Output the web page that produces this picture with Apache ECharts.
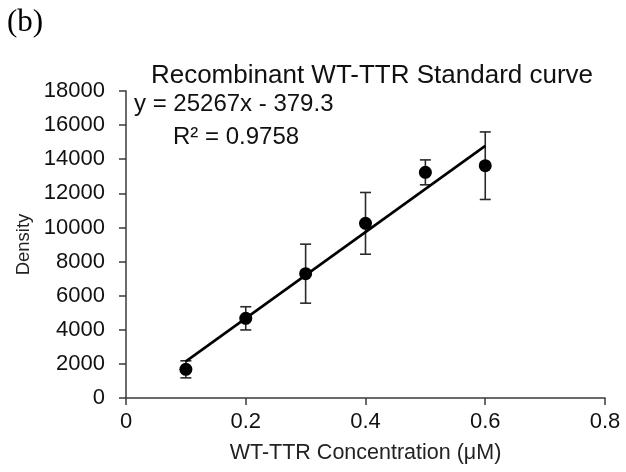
<!DOCTYPE html>
<html>
<head>
<meta charset="utf-8">
<script src="https://cdn.jsdelivr.net/npm/echarts@6/dist/echarts.min.js"></script>
<style>html,body{margin:0;padding:0;background:#fff}#c{width:626px;height:472px}</style>
</head>
<body>
<div id="c"></div>
<script>
const concentrations = [0.1, 0.2, 0.3, 0.4, 0.5, 0.6];
const densities = [1680, 4670, 7290, 10240, 13230, 13620];
const errors = [500, 680, 1730, 1810, 730, 1980];
const trendX = [0.1, 0.6];
const trendY = [2147, 14781];
const xTicks = [0, 0.2, 0.4, 0.6, 0.8];
const yTicks = [0, 2000, 4000, 6000, 8000, 10000, 12000, 14000, 16000, 18000];
const titleText = 'Recombinant WT-TTR Standard curve';
const equationText = 'y = 25267x - 379.3';
const r2Text = 'R² = 0.9758';
const panelLabel = '(b)';
const xName = 'WT-TTR Concentration (μM)';
const yName = 'Density';

const font = '"Liberation Sans", Arial, sans-serif';
const axisColor = '#3a3a3a';

const chart = echarts.init(document.getElementById('c'), null, {renderer: 'canvas'});
const pts = concentrations.map((x, i) => [x, densities[i]]);
const errData = concentrations.map((x, i) => [x, densities[i] - errors[i], densities[i] + errors[i]]);

chart.setOption({
  animation: false,
  backgroundColor: '#fff',
  grid: {left: 126, right: 21, top: 91, bottom: 74},
  title: {
    text: titleText,
    left: 367, top: 58, textAlign: 'center',
    textStyle: {fontFamily: font, fontSize: 26, fontWeight: 'normal', color: '#111'}
  },
  graphic: [
    {type: 'text', left: 7, top: 7, style: {text: panelLabel, font: '31px "Liberation Serif", "Times New Roman", serif', fill: '#000'}},
    {type: 'text', left: 134, top: 92, style: {text: equationText, font: '24px ' + font, fill: '#111'}},
    {type: 'text', left: 173, top: 125, style: {text: r2Text, font: '24px ' + font, fill: '#111'}}
  ],
  xAxis: {
    type: 'value', min: xTicks[0], max: xTicks[xTicks.length - 1], interval: 0.2,
    name: xName, nameLocation: 'middle', nameGap: 44,
    nameTextStyle: {fontFamily: font, fontSize: 21.5, color: '#222'},
    axisLine: {show: true, onZero: false, lineStyle: {color: axisColor, width: 1.5}},
    axisTick: {show: true, inside: false, length: 7, lineStyle: {color: axisColor, width: 1.5}},
    axisLabel: {fontFamily: font, fontSize: 22, color: '#111', margin: 13, formatter: v => String(v)},
    splitLine: {show: false}
  },
  yAxis: {
    type: 'value', min: yTicks[0], max: yTicks[yTicks.length - 1], interval: 2000,
    name: yName, nameLocation: 'middle', nameGap: 84, nameRotate: 90,
    nameTextStyle: {fontFamily: font, fontSize: 18.5, color: '#222'},
    axisLine: {show: true, lineStyle: {color: axisColor, width: 1.5}},
    axisTick: {show: true, inside: false, length: 7, lineStyle: {color: axisColor, width: 1.5}},
    axisLabel: {fontFamily: font, fontSize: 22, color: '#111', margin: 21, formatter: v => String(v)},
    splitLine: {show: false}
  },
  series: [
    {
      type: 'custom', z: 2,
      data: errData,
      renderItem: function (params, api) {
        const x = api.value(0);
        const lo = api.coord([x, api.value(1)]);
        const hi = api.coord([x, api.value(2)]);
        const w = 5.5;
        const st = {stroke: '#2a2a2a', lineWidth: 1.6};
        return {type: 'group', children: [
          {type: 'line', shape: {x1: lo[0], y1: lo[1], x2: hi[0], y2: hi[1]}, style: st},
          {type: 'line', shape: {x1: lo[0] - w, y1: lo[1], x2: lo[0] + w, y2: lo[1]}, style: st},
          {type: 'line', shape: {x1: hi[0] - w, y1: hi[1], x2: hi[0] + w, y2: hi[1]}, style: st}
        ]};
      }
    },
    {
      type: 'line', z: 3,
      data: trendX.map((x, i) => [x, trendY[i]]),
      showSymbol: false, symbol: 'none',
      lineStyle: {color: '#000', width: 2.6}
    },
    {
      type: 'scatter', z: 4,
      data: pts, symbol: 'circle', symbolSize: 13,
      itemStyle: {color: '#000', opacity: 1}
    }
  ]
});
</script>
</body>
</html>
